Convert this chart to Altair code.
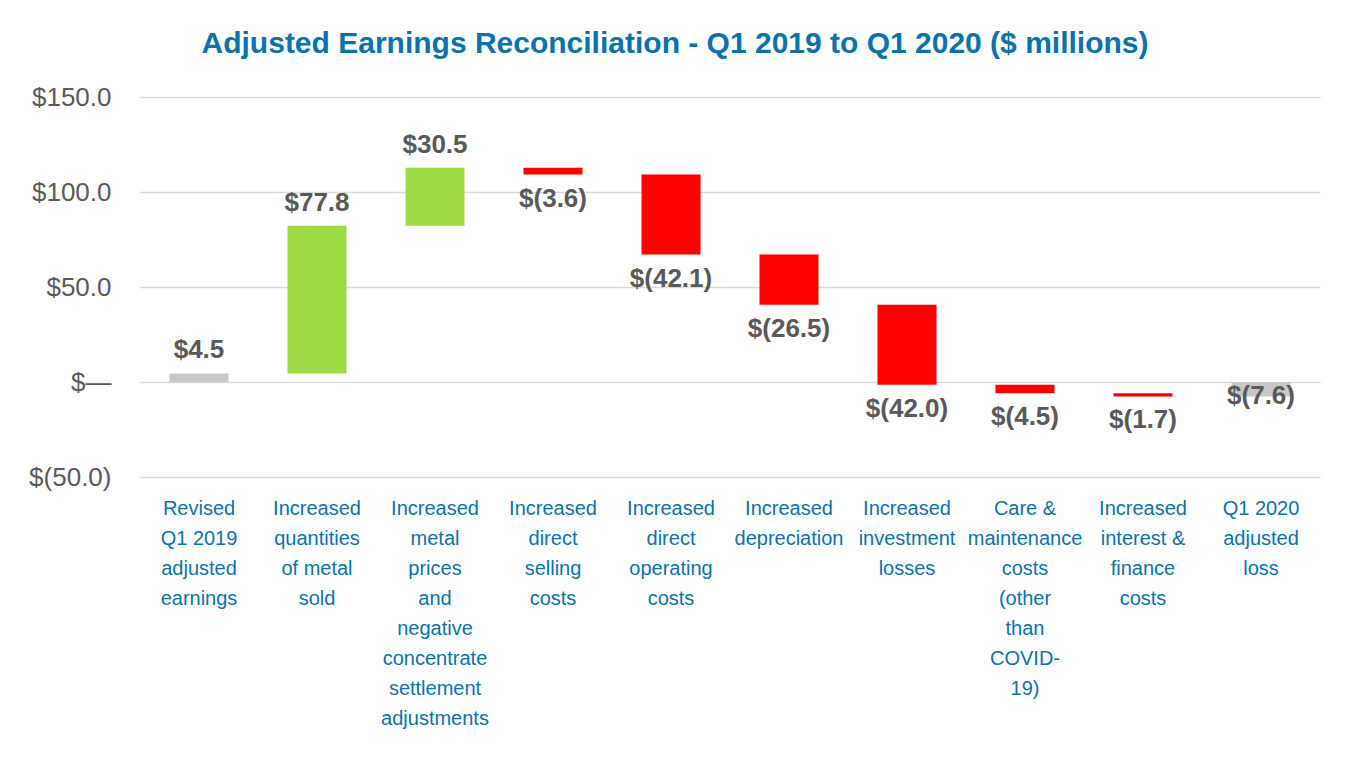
import altair as alt
import pandas as pd

categories = [
    "Revised|Q1 2019|adjusted|earnings",
    "Increased|quantities|of metal|sold",
    "Increased|metal|prices|and|negative|concentrate|settlement|adjustments",
    "Increased|direct|selling|costs",
    "Increased|direct|operating|costs",
    "Increased|depreciation",
    "Increased|investment|losses",
    "Care &|maintenance|costs|(other|than|COVID-|19)",
    "Increased|interest &|finance|costs",
    "Q1 2020|adjusted|loss",
]
amounts = [4.5, 77.8, 30.5, -3.6, -42.1, -26.5, -42.0, -4.5, -1.7, -7.6]
kinds = ["total", "delta", "delta", "delta", "delta", "delta", "delta", "delta", "delta", "total"]
value_labels = ["$4.5", "$77.8", "$30.5", "$(3.6)", "$(42.1)", "$(26.5)", "$(42.0)", "$(4.5)", "$(1.7)", "$(7.6)"]
y_ticks = [-50, 0, 50, 100, 150]

rows = []
running = 0.0
for cat, amt, kind, lab in zip(categories, amounts, kinds, value_labels):
    if kind == "total":
        start, end = 0.0, amt
    else:
        start, end = running, running + amt
    running = end
    if kind == "total":
        group = "total"
    else:
        group = "up" if amt > 0 else "down"
    if amt > 0:
        place = "above"
    elif kind == "delta":
        place = "below"
    else:
        place = "middle"
    rows.append(dict(category=cat, start=start, end=end, top=max(start, end),
                     bottom=min(start, end), group=group, place=place, label=lab))
df = pd.DataFrame(rows)

FONT = "Liberation Sans"
BLUE = "#0b72ae"
GRAY_TXT = "#595959"

x_enc = alt.X("category:N", sort=categories,
              scale=alt.Scale(paddingInner=0.5, paddingOuter=0.25),
              axis=alt.Axis(title=None, labelAngle=0, ticks=False, domain=False,
                            labelExpr="split(datum.label, '|')", labelBaseline="top",
                            labelLineHeight=30, labelFontSize=20, labelColor=BLUE,
                            labelFont=FONT, labelLimit=0, labelOverlap=False,
                            labelPadding=21, grid=False))

y_scale = alt.Scale(domain=[-50, 150], nice=False, zero=False)

base = alt.Chart(df)

bars = base.mark_bar().encode(
    x=x_enc,
    y=alt.Y("start:Q", scale=y_scale,
            axis=alt.Axis(title=None, values=y_ticks, ticks=False, domain=False,
                          gridColor="#d9d9d9", gridWidth=1.5,
                          labelFontSize=26, labelColor=GRAY_TXT, labelFont=FONT,
                          labelPadding=29,
                          labelExpr="datum.value == 0 ? '$\u2014' : (datum.value < 0 ? '$(' + format(-datum.value, '.1f') + ')' : '$' + format(datum.value, '.1f'))")),
    y2="end:Q",
    color=alt.Color("group:N",
                    scale=alt.Scale(domain=["total", "up", "down"],
                                    range=["#c8c8c8", "#9ddb45", "#ff0000"]),
                    legend=None),
)

txt_common = dict(fontSize=26, fontWeight="bold", color=GRAY_TXT, font=FONT)

above = base.transform_filter("datum.place == 'above'").mark_text(
    baseline="bottom", dy=-10, **txt_common
).encode(x=alt.X("category:N", sort=categories), y=alt.Y("top:Q", scale=y_scale), text="label:N")

below = base.transform_filter("datum.place == 'below'").mark_text(
    baseline="top", dy=11, **txt_common
).encode(x=alt.X("category:N", sort=categories), y=alt.Y("bottom:Q", scale=y_scale), text="label:N")

middle = base.transform_filter("datum.place == 'middle'").mark_text(
    baseline="middle", dy=0, **txt_common
).encode(x=alt.X("category:N", sort=categories), y=alt.Y("bottom:Q", scale=y_scale), text="label:N")

chart = alt.layer(bars, above, below, middle).properties(
    width=1180, height=380,
    title=alt.TitleParams("Adjusted Earnings Reconciliation - Q1 2019 to Q1 2020 ($ millions)",
                          fontSize=30, fontWeight="bold", color=BLUE, font=FONT,
                          anchor="middle", offset=25, dx=-55),
    autosize=alt.AutoSizeParams(type="none"),
    padding={"left": 132, "top": 89, "right": 22, "bottom": 260},
).configure_view(stroke=None)

chart.save("out.html", embed_options={"renderer": "svg", "actions": False})
